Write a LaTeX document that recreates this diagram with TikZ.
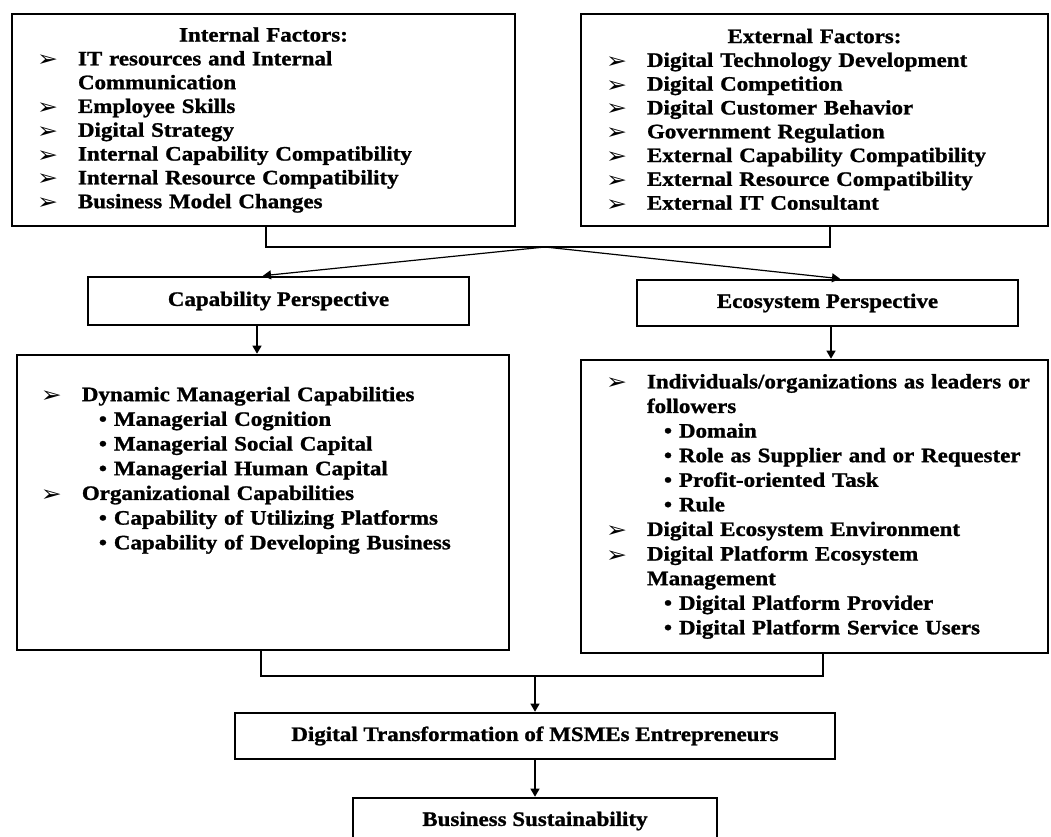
\documentclass[tikz,border=0pt]{standalone}
\usepackage{fontspec}
\setmainfont{Liberation Serif}[FakeStretch=1.12,BoldFeatures={FakeBold=1.2}]
\newfontfamily\arrowfont{DejaVu Sans}
\usetikzlibrary{positioning,arrows.meta}
\setlength{\parindent}{0pt}

\newcommand{\arrowitem}{\hspace*{25pt}\makebox[41pt][l]{\raisebox{-1.5pt}{\scalebox{1.25}[1.1]{\arrowfont\mdseries\fontsize{20}{20}\selectfont ➢}}}}
\newcommand{\dotitem}{\hspace*{83pt}\makebox[15pt][l]{•}}
\newcommand{\wrapline}{\hspace*{66pt}}

\begin{document}
\begin{tikzpicture}[%
    x=1pt, y=-1pt,
    font=\bfseries,
    factorbox/.style={
        draw,
        line width=2.6pt,
        inner xsep=0pt,
        inner ysep=0pt,
        text width=#1,
        align=left,
        font=\bfseries\fontsize{20.5}{23.8}\selectfont
        },
    listbox/.style={
        factorbox=#1,
        font=\bfseries\fontsize{20.5}{24.6}\selectfont
        },
    listtext/.style={
        inner sep=0pt,
        text width=#1,
        align=left,
        font=\bfseries\fontsize{20.5}{24.7}\selectfont
        },
    perspbox/.style={
        draw,
        line width=2.6pt,
        inner sep=0pt,
        minimum height=46pt,
        font=\bfseries\fontsize{20.5}{24}\selectfont
        },
    linkline/.style={line width=1.2pt},
    flowarrow/.style={linkline, -{Triangle[length=8pt,width=9pt]}}
]

\useasboundingbox (0,0) rectangle (1051,837);

\node[factorbox=503pt, minimum height=212pt] (intf) at (263.5,120) {%
\makebox[\hsize]{Internal Factors:}\\
\arrowitem IT resources and Internal\\
\wrapline Communication\\
\arrowitem Employee Skills\\
\arrowitem Digital Strategy\\
\arrowitem Internal Capability Compatibility\\
\arrowitem Internal Resource Compatibility\\
\arrowitem Business Model Changes};

\node[factorbox=467pt, minimum height=212pt] (extf) at (814.5,120) {%
\makebox[\hsize]{External Factors:}\\
\arrowitem Digital Technology Development\\
\arrowitem Digital Competition\\
\arrowitem Digital Customer Behavior\\
\arrowitem Government Regulation\\
\arrowitem External Capability Compatibility\\
\arrowitem External Resource Compatibility\\
\arrowitem External IT Consultant};

\node[perspbox, minimum width=381pt, minimum height=48pt] (capp) at (278.5,301) {Capability Perspective};
\node[perspbox, minimum width=381pt] (ecop) at (827.5,303) {Ecosystem Perspective};

\node[listbox=492pt, minimum height=295pt] (caplist) at (263,502.5) {};
\node[listtext=492pt, below right=33pt and 0pt of caplist.north west, anchor=north west] (captext) {%
\arrowitem Dynamic Managerial Capabilities\\
\dotitem Managerial Cognition\\
\dotitem Managerial Social Capital\\
\dotitem Managerial Human Capital\\
\arrowitem Organizational Capabilities\\
\dotitem Capability of Utilizing Platforms\\
\dotitem Capability of Developing Business};

\node[listbox=467pt, minimum height=293pt] (ecolist) at (814.5,506.5) {%
\arrowitem Individuals/organizations as leaders or\\
\wrapline followers\\
\dotitem Domain\\
\dotitem Role as Supplier and or Requester\\
\dotitem Profit-oriented Task\\
\dotitem Rule\\
\arrowitem Digital Ecosystem Environment\\
\arrowitem Digital Platform Ecosystem\\
\wrapline Management\\
\dotitem Digital Platform Provider\\
\dotitem Digital Platform Service Users};

\node[perspbox, minimum width=600pt] (dtm) at (535,736) {Digital Transformation of MSMEs Entrepreneurs};
\node[perspbox, minimum width=364pt] (bsus) at (535,821) {Business Sustainability};

\coordinate (topjoin) at (545,247);
\coordinate (lowjoin) at (535,676);

\draw[linkline] ([xshift=2.5pt]intf.south) |- (topjoin) -| ([xshift=15.5pt]extf.south);
\draw[flowarrow] (topjoin) -- ([xshift=-15.5pt]capp.north);
\draw[flowarrow] (topjoin) -- ([xshift=12.5pt]ecop.north);

\draw[flowarrow] ([xshift=-21.5pt]capp.south) -- ([xshift=-21.5pt]capp.south |- caplist.north);
\draw[flowarrow] ([xshift=3.5pt]ecop.south) -- ([xshift=3.5pt]ecop.south |- ecolist.north);

\draw[linkline] ([xshift=-2pt]caplist.south) |- (lowjoin) -| ([xshift=8.5pt]ecolist.south);
\draw[flowarrow] (lowjoin) -- (dtm.north);
\draw[flowarrow] (dtm.south) -- (bsus.north);

\end{tikzpicture}
\end{document}
